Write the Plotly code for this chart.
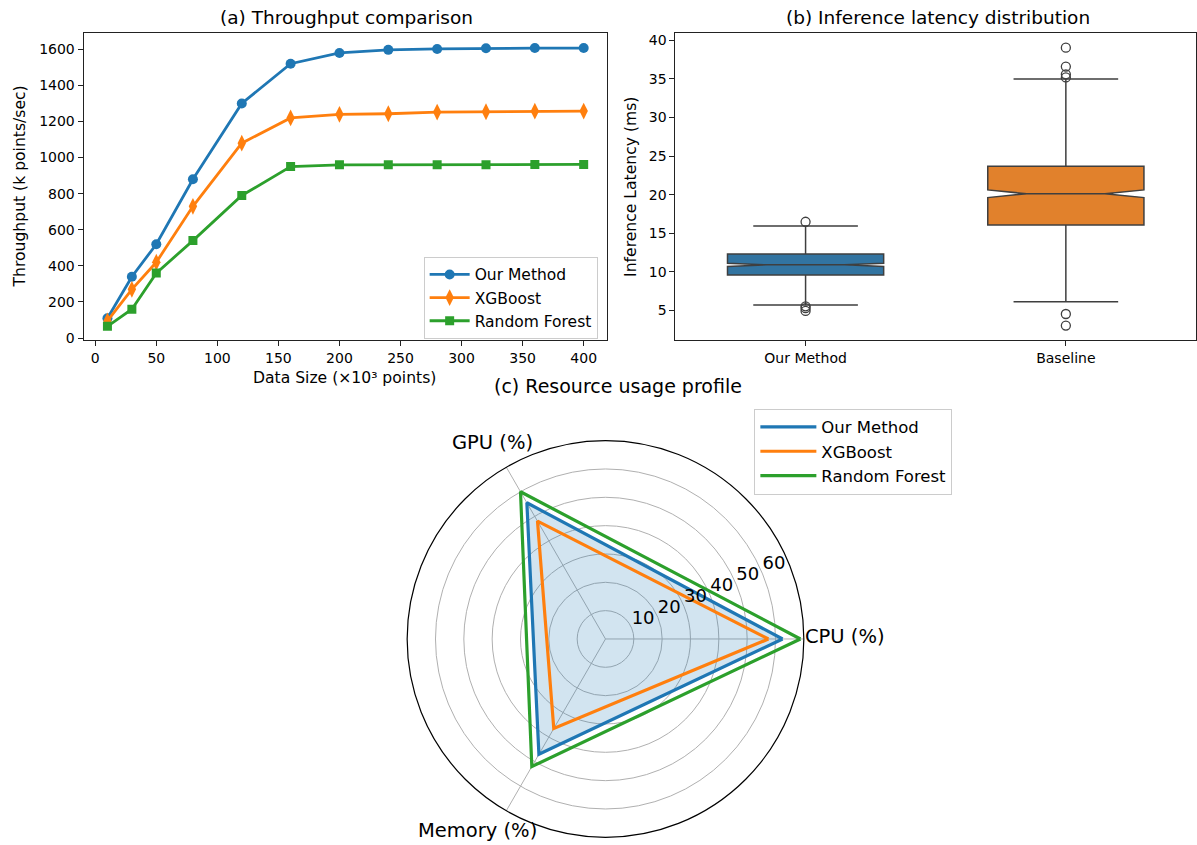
import plotly.graph_objects as go

W, H = 1197, 845

# ---------------- data ----------------
data_size = [10, 30, 50, 80, 120, 160, 200, 240, 280, 320, 360, 400]
thr_our = [110, 340, 520, 880, 1300, 1520, 1580, 1597, 1602, 1606, 1607, 1607]
thr_xgb = [95, 270, 420, 730, 1080, 1220, 1240, 1243, 1252, 1254, 1257, 1258]
thr_rf = [65, 160, 360, 540, 790, 950, 960, 960, 961, 961, 962, 962]

box_names = ["Our Method", "Baseline"]
box_q1 = [9.62, 16.07]
box_median = [10.92, 20.13]
box_q3 = [12.34, 23.68]
box_low = [5.72, 6.15]
box_high = [15.95, 35.0]
box_notch = [0.21, 0.5]
out_our = [16.5, 5.55, 5.3, 4.95]
out_base = [39.05, 36.6, 35.6, 35.2, 4.55, 3.05]

radar_axes = ["CPU (%)", "GPU (%)", "Memory (%)"]
radar_our = [62.5, 55.5, 47.0]
radar_xgb = [57.5, 48.0, 36.5]
radar_rf = [68.8, 60.0, 52.0]
radar_ticks = [10, 20, 30, 40, 50, 60]

series_names = ["Our Method", "XGBoost", "Random Forest"]
colors = ["#1f77b4", "#ff7f0e", "#2ca02c"]
box_fill = ["#3274a1", "#e1812c"]
edge = "#3f3f3f"
FONT = "DejaVu Sans"

fig = go.Figure()

# ---------------- (a) throughput ----------------
symbols = ["circle", "diamond-tall", "square"]
msizes = [10, 12, 9]
for name, ys, c, s, ms in zip(series_names, [thr_our, thr_xgb, thr_rf], colors, symbols, msizes):
    fig.add_trace(go.Scatter(
        x=data_size, y=ys, name=name, mode="lines+markers",
        line=dict(color=c, width=2.8),
        marker=dict(symbol=s, size=ms, color=c),
        xaxis="x", yaxis="y", legend="legend",
    ))

# ---------------- (b) latency boxes ----------------
for i, nm in enumerate(box_names):
    fig.add_trace(go.Box(
        x=[nm], q1=[box_q1[i]], median=[box_median[i]], q3=[box_q3[i]],
        lowerfence=[box_low[i]], upperfence=[box_high[i]],
        notched=True, notchspan=[box_notch[i]], notchwidth=0.25,
        fillcolor=box_fill[i], line=dict(color=edge, width=1.5),
        width=0.6, whiskerwidth=0.67, boxpoints=False,
        showlegend=False, xaxis="x2", yaxis="y2", hoverinfo="skip",
    ))
for nm, outs in zip(box_names, [out_our, out_base]):
    fig.add_trace(go.Scatter(
        x=[nm] * len(outs), y=outs, mode="markers", showlegend=False,
        marker=dict(symbol="circle-open", size=9, color=edge, line=dict(width=1.3)),
        xaxis="x2", yaxis="y2",
    ))

# ---------------- (c) radar ----------------
n_ax = len(radar_axes)
theta_deg = [i * 360.0 / n_ax for i in range(n_ax)]
theta_closed = theta_deg + [theta_deg[0]]

# fill for "Our Method" (no legend entry)
fig.add_trace(go.Scatterpolar(
    r=radar_our + [radar_our[0]], theta=theta_closed, mode="lines",
    fill="toself", fillcolor="rgba(31,119,180,0.2)", line=dict(width=0),
    showlegend=False, hoverinfo="skip",
))
for name, vals, c in zip(series_names, [radar_our, radar_xgb, radar_rf], colors):
    fig.add_trace(go.Scatterpolar(
        r=vals + [vals[0]], theta=theta_closed, name=name, mode="lines",
        line=dict(color=c, width=3.2), legend="legend2",
    ))
# radial tick labels (horizontal, matplotlib-style at 22.5 deg)
fig.add_trace(go.Scatterpolar(
    r=radar_ticks, theta=[22.5] * len(radar_ticks), mode="text",
    text=[str(t) for t in radar_ticks], textposition="top right",
    textfont=dict(family=FONT, size=18, color="#000"),
    showlegend=False, hoverinfo="skip", cliponaxis=False,
))

axis_common = dict(
    showline=True, mirror=True, linecolor="#222", linewidth=1.1,
    ticks="outside", ticklen=5, tickwidth=1, tickcolor="#222",
    showgrid=False, zeroline=False,
    tickfont=dict(family=FONT, size=14, color="#000"),
)

cx, cy, rad = 606, 643.3, 200
fig.update_layout(
    width=W, height=H,
    margin=dict(l=0, r=0, t=0, b=0),
    paper_bgcolor="white", plot_bgcolor="white",
    font=dict(family=FONT, color="#000"),
    xaxis=dict(domain=[83.7 / W, 608 / W], range=[-9.5, 419.5],
               tickvals=[0, 50, 100, 150, 200, 250, 300, 350, 400], anchor="y", **axis_common),
    yaxis=dict(domain=[1 - 341.7 / H, 1 - 32.7 / H], range=[-10, 1688],
               tickvals=[0, 200, 400, 600, 800, 1000, 1200, 1400, 1600], anchor="x", **axis_common),
    xaxis2=dict(domain=[676 / W, 1.0], range=[-0.5, 1.5], type="category",
                categoryorder="array", categoryarray=box_names, anchor="y2", **axis_common),
    yaxis2=dict(domain=[1 - 341.7 / H, 1 - 32.7 / H], range=[1.2, 40.9],
                tickvals=[5, 10, 15, 20, 25, 30, 35, 40], anchor="x2", **axis_common),
    polar=dict(
        domain=dict(x=[(cx - rad) / W, (cx + rad) / W],
                    y=[(H - cy - rad) / H, (H - cy + rad) / H]),
        bgcolor="white",
        radialaxis=dict(range=[0, 70], tickvals=radar_ticks,
                        showline=False, ticks="", showticklabels=False,
                        gridcolor="#b0b0b0", gridwidth=1),
        angularaxis=dict(direction="counterclockwise", rotation=0,
                         thetaunit="degrees", tickvals=theta_deg,
                         showticklabels=False,
                         showline=True, linecolor="#000", linewidth=1.2,
                         gridcolor="#b0b0b0", gridwidth=1, ticks=""),
    ),
    legend=dict(x=424 / W, y=1 - 258 / H, xanchor="left", yanchor="top",
                bgcolor="rgba(255,255,255,0.85)", bordercolor="#cccccc", borderwidth=1,
                itemwidth=40,
                font=dict(family=FONT, size=15.5, color="#000")),
    legend2=dict(x=755 / W, y=1 - 411 / H, xanchor="left", yanchor="top",
                 bgcolor="rgba(255,255,255,0.85)", bordercolor="#cccccc", borderwidth=1,
                 itemwidth=56,
                 font=dict(family=FONT, size=16.5, color="#000")),
    showlegend=True,
)

ann = [
    dict(text="(a) Throughput comparison", x=346.5, y=17, size=18.5, angle=0),
    dict(text="(b) Inference latency distribution", x=939, y=17, size=18.5, angle=0),
    dict(text="(c) Resource usage profile", x=619, y=388, size=19, angle=0),
    dict(text="Data Size (×10³ points)", x=345, y=380, size=15.6, angle=0),
    dict(text="Throughput (k points/sec)", x=20, y=187, size=15.6, angle=-90),
    dict(text="Inference Latency (ms)", x=632, y=187, size=15.6, angle=-90),
    # angular (category) labels of the radar
    dict(text=radar_axes[0], x=846, y=641, size=19.5, angle=0),
    dict(text=radar_axes[1], x=492.5, y=445, size=19.5, angle=0),
    dict(text=radar_axes[2], x=477.5, y=836, size=19.5, angle=0),
]
for a in ann:
    fig.add_annotation(text=a["text"], x=a["x"] / W, y=1 - a["y"] / H, xref="paper", yref="paper",
                       xanchor="center", yanchor="middle", showarrow=False,
                       textangle=a["angle"], font=dict(family=FONT, size=a["size"], color="#000"))

fig.write_html("out.html")
